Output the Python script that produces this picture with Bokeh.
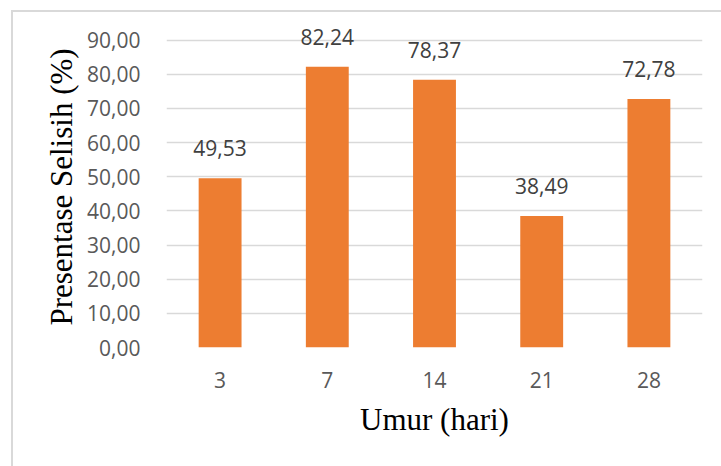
from bokeh.plotting import figure
from bokeh.models import (ColumnDataSource, Range1d, FixedTicker, CustomJSTickFormatter,
                          LabelSet, InlineStyleSheet)
from bokeh.core.properties import value
from bokeh.embed import file_html
from bokeh.resources import INLINE

# Age of the samples (days) and percentage difference
umur = ["3", "7", "14", "21", "28"]
selisih = [49.53, 82.24, 78.37, 38.49, 72.78]
y_ticks = [0, 10, 20, 30, 40, 50, 60, 70, 80, 90]

labels = [f"{v:.2f}".replace(".", ",") for v in selisih]
source = ColumnDataSource(data=dict(umur=umur, selisih=selisih, label=labels))

# the range runs a little past 90 so the value labels above tall bars stay visible
p = figure(
    width=721, height=466,
    x_range=umur, y_range=Range1d(0, 94),
    output_backend="svg", toolbar_location=None,
    min_border_left=166, min_border_right=19,
    min_border_top=26, min_border_bottom=119,
)
p.outline_line_color = None
p.background_fill_color = "white"
p.border_fill_color = "white"

p.vbar(x="umur", top="selisih", width=0.4, source=source,
       fill_color="#ED7D31", line_color=None)

# value labels above each bar
p.add_layout(LabelSet(x="umur", y="selisih", text="label", source=source,
                      text_align="center", text_baseline="alphabetic", y_offset=22,
                      text_font=value("Open Sans"), text_font_size=value("21px"),
                      text_color="#404040"))

# grid
p.xgrid.grid_line_color = None
p.ygrid.grid_line_color = "#D9D9D9"
p.ygrid.grid_line_width = 1.3

# y axis
p.yaxis.ticker = FixedTicker(ticks=y_ticks)
p.yaxis.formatter = CustomJSTickFormatter(code="return tick.toFixed(2).replace('.', ',');")
p.yaxis.axis_label = "Presentase Selisih (%)"
p.yaxis.major_label_standoff = 20
p.yaxis.axis_label_standoff = 5

# x axis
p.xaxis.axis_label = "Umur (hari)"
p.xaxis.major_label_standoff = 18
p.xaxis.axis_label_standoff = 11

for ax in (p.xaxis[0], p.yaxis[0]):
    ax.axis_line_color = None
    ax.major_tick_line_color = None
    ax.minor_tick_line_color = None
    ax.major_label_text_font = "Open Sans"
    ax.major_label_text_font_size = "21px"
    ax.major_label_text_color = "#595959"
    ax.axis_label_text_font = "Liberation Serif"
    ax.axis_label_text_font_size = "31px"
    ax.axis_label_text_font_style = "normal"
    ax.axis_label_text_color = "black"

# thin frame around the chart area, open towards the right and bottom edges
p.stylesheets = [InlineStyleSheet(css="""
:host { position: relative; overflow: hidden; }
:host::after {
  content: "";
  position: absolute;
  left: 11px; top: 10px; right: 0; bottom: 0;
  border-left: 2px solid #D9D9D9;
  border-top: 2px solid #D9D9D9;
  pointer-events: none;
}
""")]

open("out.html", "w").write(file_html(p, INLINE))
